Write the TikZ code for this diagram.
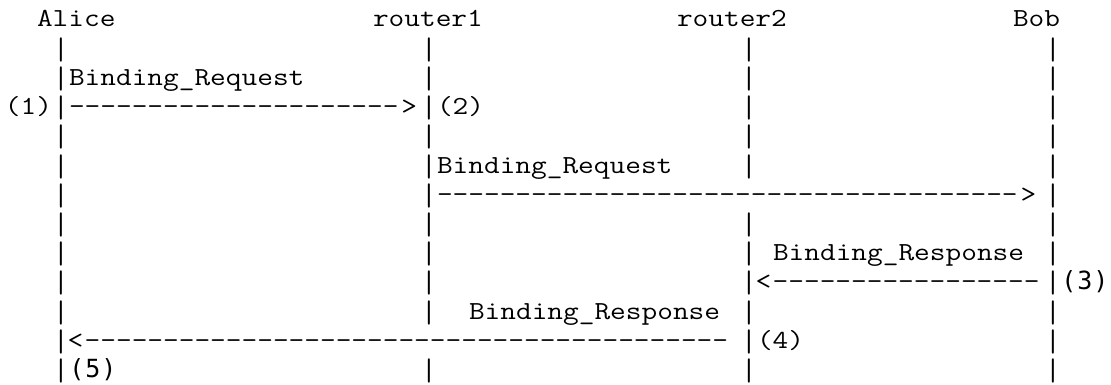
\documentclass[tikz,border=0pt]{standalone}
\usepackage{fontspec}
\usepackage{graphicx}
\newfontfamily\dvmono{DejaVu Sans Mono}
\newcount\dashcnt
\newcommand\dashrun[1]{\dashcnt=0 \loop\ifnum\dashcnt<#1 \advance\dashcnt by 1 -\kern0pt\repeat}
\newcommand\tx[1]{\scalebox{1.172}[1]{\ttfamily\fontsize{26}{26}\selectfont #1}}
\newcommand\vbar{\raisebox{-3pt}{\scalebox{1.172}[1.2]{\ttfamily\fontsize{26}{26}\selectfont |}}}
\newcommand\cellbox[1]{\makebox[16pt][c]{#1}}
\newcommand\sx[3]{{\dvmono\fontsize{25}{25}\selectfont\cellbox{#1}\cellbox{#2}\cellbox{#3}}}
\newcommand\rtip{\kern2.5pt>}
\newcommand\ltip{\kern-1.2pt<\kern1.2pt}
\tikzset{ascii/.style={anchor=base west, inner sep=0pt, outer sep=0pt, text=black}}
\newcommand\chunk[4]{\node[ascii] (#1) at ({5+16*#3},{27+29.2*(#2-1)}) {#4};}
\begin{document}
\begin{tikzpicture}[x=1pt,y=-1pt]
\useasboundingbox (0,0) rectangle (1111,385);
% header
\chunk{alice}{1}{2}{\tx{Alice}}
\chunk{router1}{1}{23}{\tx{router1}}
\chunk{router2}{1}{42}{\tx{router2}}
\chunk{bob}{1}{63}{\tx{Bob}}
% lifelines
\foreach \cl in {3,65}{\foreach \k in {2,...,13}{\chunk{b\k-\cl}{\k}{\cl}{\vbar}}}
\foreach \k in {2,...,11,13}{\chunk{b\k-26}{\k}{26}{\vbar}}
\foreach \k in {2,...,6,8,9,...,13}{\chunk{b\k-46}{\k}{46}{\vbar}}
% messages
\chunk{m1label}{3}{4}{\tx{Binding\_Request}}
\chunk{m1num}{4}{0}{\tx{(1)}}
\chunk{m1arrow}{4}{4}{\tx{\dashrun{21}\rtip}}
\chunk{m2num}{4}{27}{\tx{(2)}}
\chunk{m2label}{6}{27}{\tx{Binding\_Request}}
\chunk{m2arrow}{7}{27}{\tx{\dashrun{37}\rtip}}
\chunk{m3label}{9}{48}{\tx{Binding\_Response}}
\chunk{m3arrow}{10}{47}{\tx{\ltip\dashrun{17}}}
\chunk{m3num}{10}{66}{\sx{(}{3}{)}}
\chunk{m4label}{11}{29}{\tx{Binding\_Response}}
\chunk{m4arrow}{12}{4}{\tx{\ltip\dashrun{41}}}
\chunk{m4num}{12}{47}{\tx{(4)}}
\chunk{m5num}{13}{4}{\sx{(}{5}{)}}
\end{tikzpicture}
\end{document}
